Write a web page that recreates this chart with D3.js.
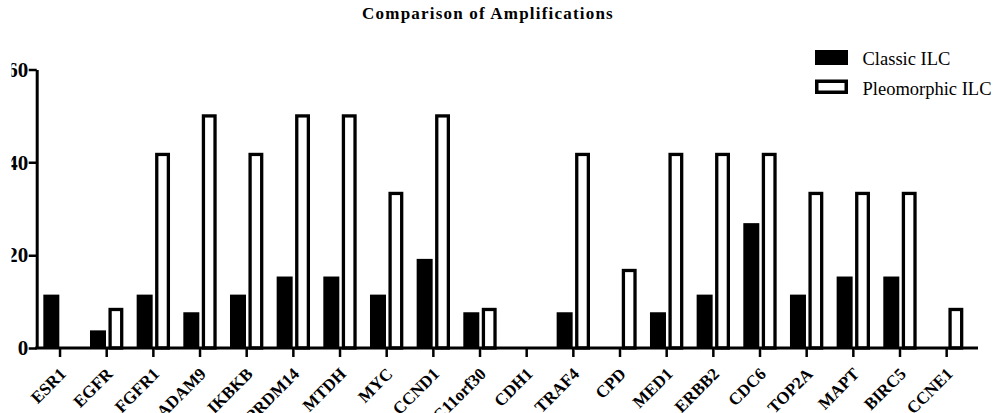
<!DOCTYPE html>
<html>
<head>
<meta charset="utf-8">
<script src="https://cdn.jsdelivr.net/npm/d3@7"></script>
<style>
  body { margin: 0; background: #fff; }
  svg { display: block; font-family: "Liberation Serif", "Times New Roman", serif; }
</style>
</head>
<body>
<div id="chart-area"></div>
<script>
// genes on the x axis
const genes = ["ESR1", "EGFR", "FGFR1", "ADAM9", "IKBKB", "PRDM14", "MTDH", "MYC", "CCND1", "C11orf30",
  "CDH1", "TRAF4", "CPD", "MED1", "ERBB2", "CDC6", "TOP2A", "MAPT", "BIRC5", "CCNE1"]
// % amplified
const classicILC = [11.5, 3.8, 11.5, 7.7, 11.5, 15.4, 15.4, 11.5, 19.2, 7.7,
  0, 7.7, 0, 7.7, 11.5, 26.9, 11.5, 15.4, 15.4, 0]
const pleomorphicILC = [0, 8.3, 41.7, 50, 41.7, 50, 50, 33.3, 50, 8.3,
  0, 41.7, 16.7, 41.7, 41.7, 41.7, 33.3, 33.3, 33.3, 8.3]
const yTicks = [0, 20, 40, 60]
const seriesNames = ["Classic ILC", "Pleomorphic ILC"]

const W = 998, H = 413
const LEFT = 36.7, RIGHT = 970, TOP = 69.5, BOTTOM = 348
const FONT = "'Liberation Serif', 'Times New Roman', serif"

const svg = d3.select("#chart-area").append("svg")
  .attr("width", W)
  .attr("height", H)

// title
svg.append("text")
  .attr("x", 488)
  .attr("y", 19)
  .attr("text-anchor", "middle")
  .attr("font-family", FONT)
  .attr("font-size", "17px")
  .attr("letter-spacing", "1.2px")
  .attr("font-weight", "bold")
  .text("Comparison of Amplifications")

const x = d3.scaleBand()
  .domain(genes)
  .range([LEFT, RIGHT])

const y = d3.scaleLinear()
  .domain([0, 60])
  .range([BOTTOM, TOP])

const data = genes.map((g, i) => ({ gene: g, classic: classicILC[i], pleo: pleomorphicILC[i] }))
const cx = d => x(d.gene) + x.bandwidth() / 2

// bars
svg.append("g").selectAll("rect")
  .data(data.filter(d => d.classic > 0))
  .enter().append("rect")
  .attr("x", d => cx(d) - 16.7)
  .attr("width", 16)
  .attr("y", d => y(d.classic))
  .attr("height", d => y(0) - y(d.classic))
  .attr("fill", "#000")

svg.append("g").selectAll("rect")
  .data(data.filter(d => d.pleo > 0))
  .enter().append("rect")
  .attr("x", d => cx(d) + 3.4)
  .attr("width", 11.6)
  .attr("y", d => y(d.pleo))
  .attr("height", d => y(0) - y(d.pleo))
  .attr("fill", "#fff")
  .attr("stroke", "#000")
  .attr("stroke-width", 3.3)

// y axis, left edge of labels is cropped like the original
svg.append("defs").append("clipPath").attr("id", "ycrop")
  .append("rect").attr("x", 11.5 - LEFT).attr("y", -30).attr("width", 200).attr("height", H)

const yAxisCall = d3.axisLeft(y).tickValues(yTicks).tickSize(8).tickSizeOuter(0).tickPadding(0.5)
const yAx = svg.append("g")
  .attr("transform", `translate(${LEFT}, 0)`)
  .attr("clip-path", "url(#ycrop)")
  .call(yAxisCall)
yAx.select(".domain").attr("stroke-width", 3)
yAx.selectAll(".tick line").attr("stroke-width", 2.5)
yAx.selectAll("text")
  .attr("font-family", FONT)
  .attr("font-size", "21px")
  .attr("font-weight", "bold")
  .attr("fill", "#000")

// x axis
const xAxisCall = d3.axisBottom(x).tickSize(9).tickSizeOuter(0)
const xAx = svg.append("g")
  .attr("transform", `translate(0, ${BOTTOM})`)
  .call(xAxisCall)
xAx.select(".domain").remove()
xAx.append("line")
  .attr("x1", LEFT - 1.5).attr("x2", 978)
  .attr("stroke", "#000").attr("stroke-width", 3)
xAx.selectAll(".tick line").attr("stroke-width", 2.5)
xAx.selectAll("text")
  .attr("font-family", FONT)
  .attr("font-size", "17px")
  .attr("font-weight", "bold")
  .attr("fill", "#000")
  .attr("text-anchor", "end")
  .attr("y", 0).attr("dy", 0)
  .attr("transform", "translate(7, 27) rotate(-45)")

// legend
const legend = svg.append("g").attr("transform", "translate(815, 50)")
seriesNames.forEach((name, i) => {
  const row = legend.append("g").attr("transform", `translate(0, ${i * 29.5})`)
  if (i === 0) {
    row.append("rect").attr("width", 33).attr("height", 15).attr("fill", "#000")
  } else {
    row.append("rect").attr("x", 1.75).attr("y", 1.75).attr("width", 29.5).attr("height", 11)
      .attr("fill", "#fff").attr("stroke", "#000").attr("stroke-width", 3.5)
  }
  row.append("text")
    .attr("x", 47.5)
    .attr("y", 15)
    .attr("font-family", FONT)
    .attr("font-size", "18.5px")
    .text(name)
})
</script>
</body>
</html>
